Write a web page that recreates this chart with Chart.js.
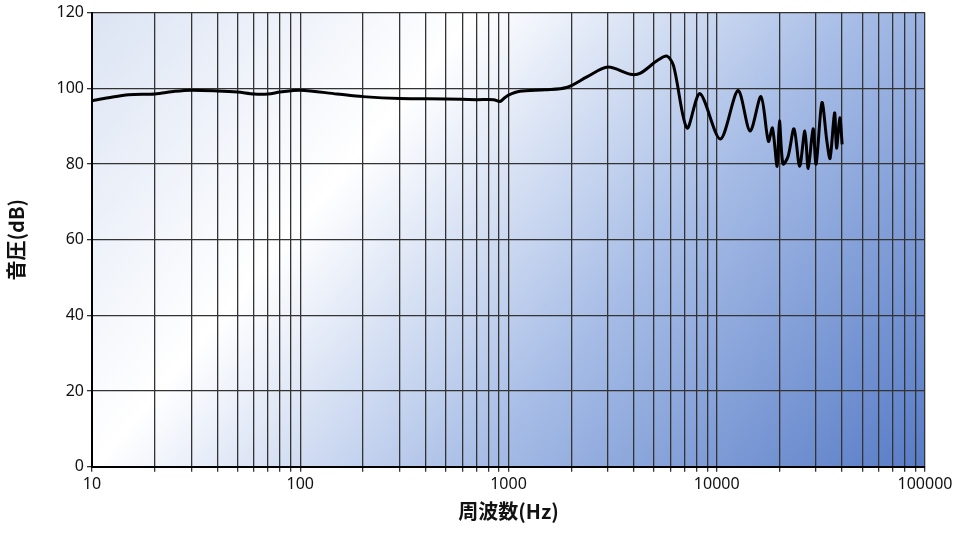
<!DOCTYPE html>
<html lang="ja">
<head>
<meta charset="utf-8">
<title>周波数特性</title>
<script src="https://cdn.jsdelivr.net/npm/chart.js@4.4.0/dist/chart.umd.min.js"></script>
<style>
  html, body { margin: 0; padding: 0; background: #fff; }
  #wrap { width: 980px; height: 533px; }
</style>
</head>
<body>
<div id="wrap"><canvas id="fr"></canvas></div>
<script>
const freqs = [10, 12, 15, 20, 25, 30, 40, 50, 60, 70, 80, 100, 150, 200, 300, 500, 700, 850, 910, 950, 1000, 1135, 1500, 1900, 2380, 3000, 3850, 4300, 5200, 5770, 6200, 7200, 8300, 10400, 12650, 14450, 16300, 17700, 18500, 19500, 20000, 20800, 22000, 23500, 25000, 26500, 27500, 29000, 30000, 32000, 33800, 35000, 36800, 37600, 39000, 40000];
const levels = [96.7, 97.5, 98.3, 98.5, 99.2, 99.5, 99.3, 99.0, 98.5, 98.5, 99.0, 99.5, 98.5, 97.8, 97.3, 97.2, 97.0, 97.0, 96.5, 97.3, 98.2, 99.2, 99.6, 100.2, 103.0, 105.6, 103.7, 104.0, 107.4, 108.5, 106.0, 89.5, 98.6, 86.6, 99.4, 88.7, 97.8, 86.0, 89.5, 79.4, 91.4, 80.0, 82.0, 89.3, 79.4, 88.7, 78.8, 89.3, 80.0, 96.2, 86.0, 81.5, 93.5, 84.2, 92.2, 85.2];
const decadeLabels = [10, 100, 1000, 10000, 100000];
const yTicks = [0, 20, 40, 60, 80, 100, 120];

const bgPlugin = {
  id: 'bg',
  beforeDraw(chart) {
    const { ctx, chartArea: a } = chart;
    const g = ctx.createLinearGradient(a.left, a.top - 100, a.right, a.bottom + 150);
    g.addColorStop(0, '#d4def1');
    g.addColorStop(0.33, '#ffffff');
    g.addColorStop(0.6, '#a6bce6');
    g.addColorStop(1, '#4169bd');
    ctx.save();
    ctx.fillStyle = g;
    ctx.fillRect(a.left, a.top, a.right - a.left, a.bottom - a.top);
    ctx.restore();
  }
};

new Chart(document.getElementById('fr'), {
  type: 'line',
  data: {
    datasets: [{
      data: freqs.map((f, i) => ({ x: f, y: levels[i] })),
      borderColor: '#000',
      borderWidth: 3,
      pointRadius: 0,
      tension: 0.3,
      fill: false
    }]
  },
  options: {
    responsive: true,
    maintainAspectRatio: false,
    animation: false,
    layout: { padding: { top: 8, right: 55, bottom: 6, left: 0 } },
    plugins: { legend: { display: false }, tooltip: { enabled: false } },
    scales: {
      x: {
        type: 'logarithmic',
        min: 10, max: 100000,
        afterBuildTicks(axis) {
          const t = [];
          for (let d = 10; d < 100000; d *= 10)
            for (let k = 1; k < 10; k++) t.push({ value: d * k });
          t.push({ value: 100000 });
          axis.ticks = t;
        },
        ticks: {
          autoSkip: false, maxRotation: 0, color: '#111',
          font: { family: 'Noto Sans', size: 16 },
          callback: v => decadeLabels.includes(v) ? String(v) : ''
        },
        grid: { color: '#333', lineWidth: 1.3, drawTicks: true, tickLength: 5 },
        border: { color: '#000', width: 2 },
        title: { display: true, text: '周波数(Hz)', color: '#111',
          font: { family: 'Noto Sans CJK JP', size: 20, weight: 'bold' }, padding: { top: 2 } }
      },
      y: {
        min: 0, max: 120,
        afterBuildTicks(axis) { axis.ticks = yTicks.map(v => ({ value: v })); },
        afterFit(axis) { axis.width = 92; },
        ticks: { color: '#111', font: { family: 'Noto Sans', size: 16 } },
        grid: { color: '#333', lineWidth: 1.3, tickLength: 5 },
        border: { color: '#000', width: 2 },
        title: { display: true, text: '音圧(dB)', color: '#111',
          font: { family: 'Noto Sans CJK JP', size: 20, weight: 'bold' }, padding: { bottom: 2 } }
      }
    }
  },
  plugins: [bgPlugin]
});
</script>
</body>
</html>
